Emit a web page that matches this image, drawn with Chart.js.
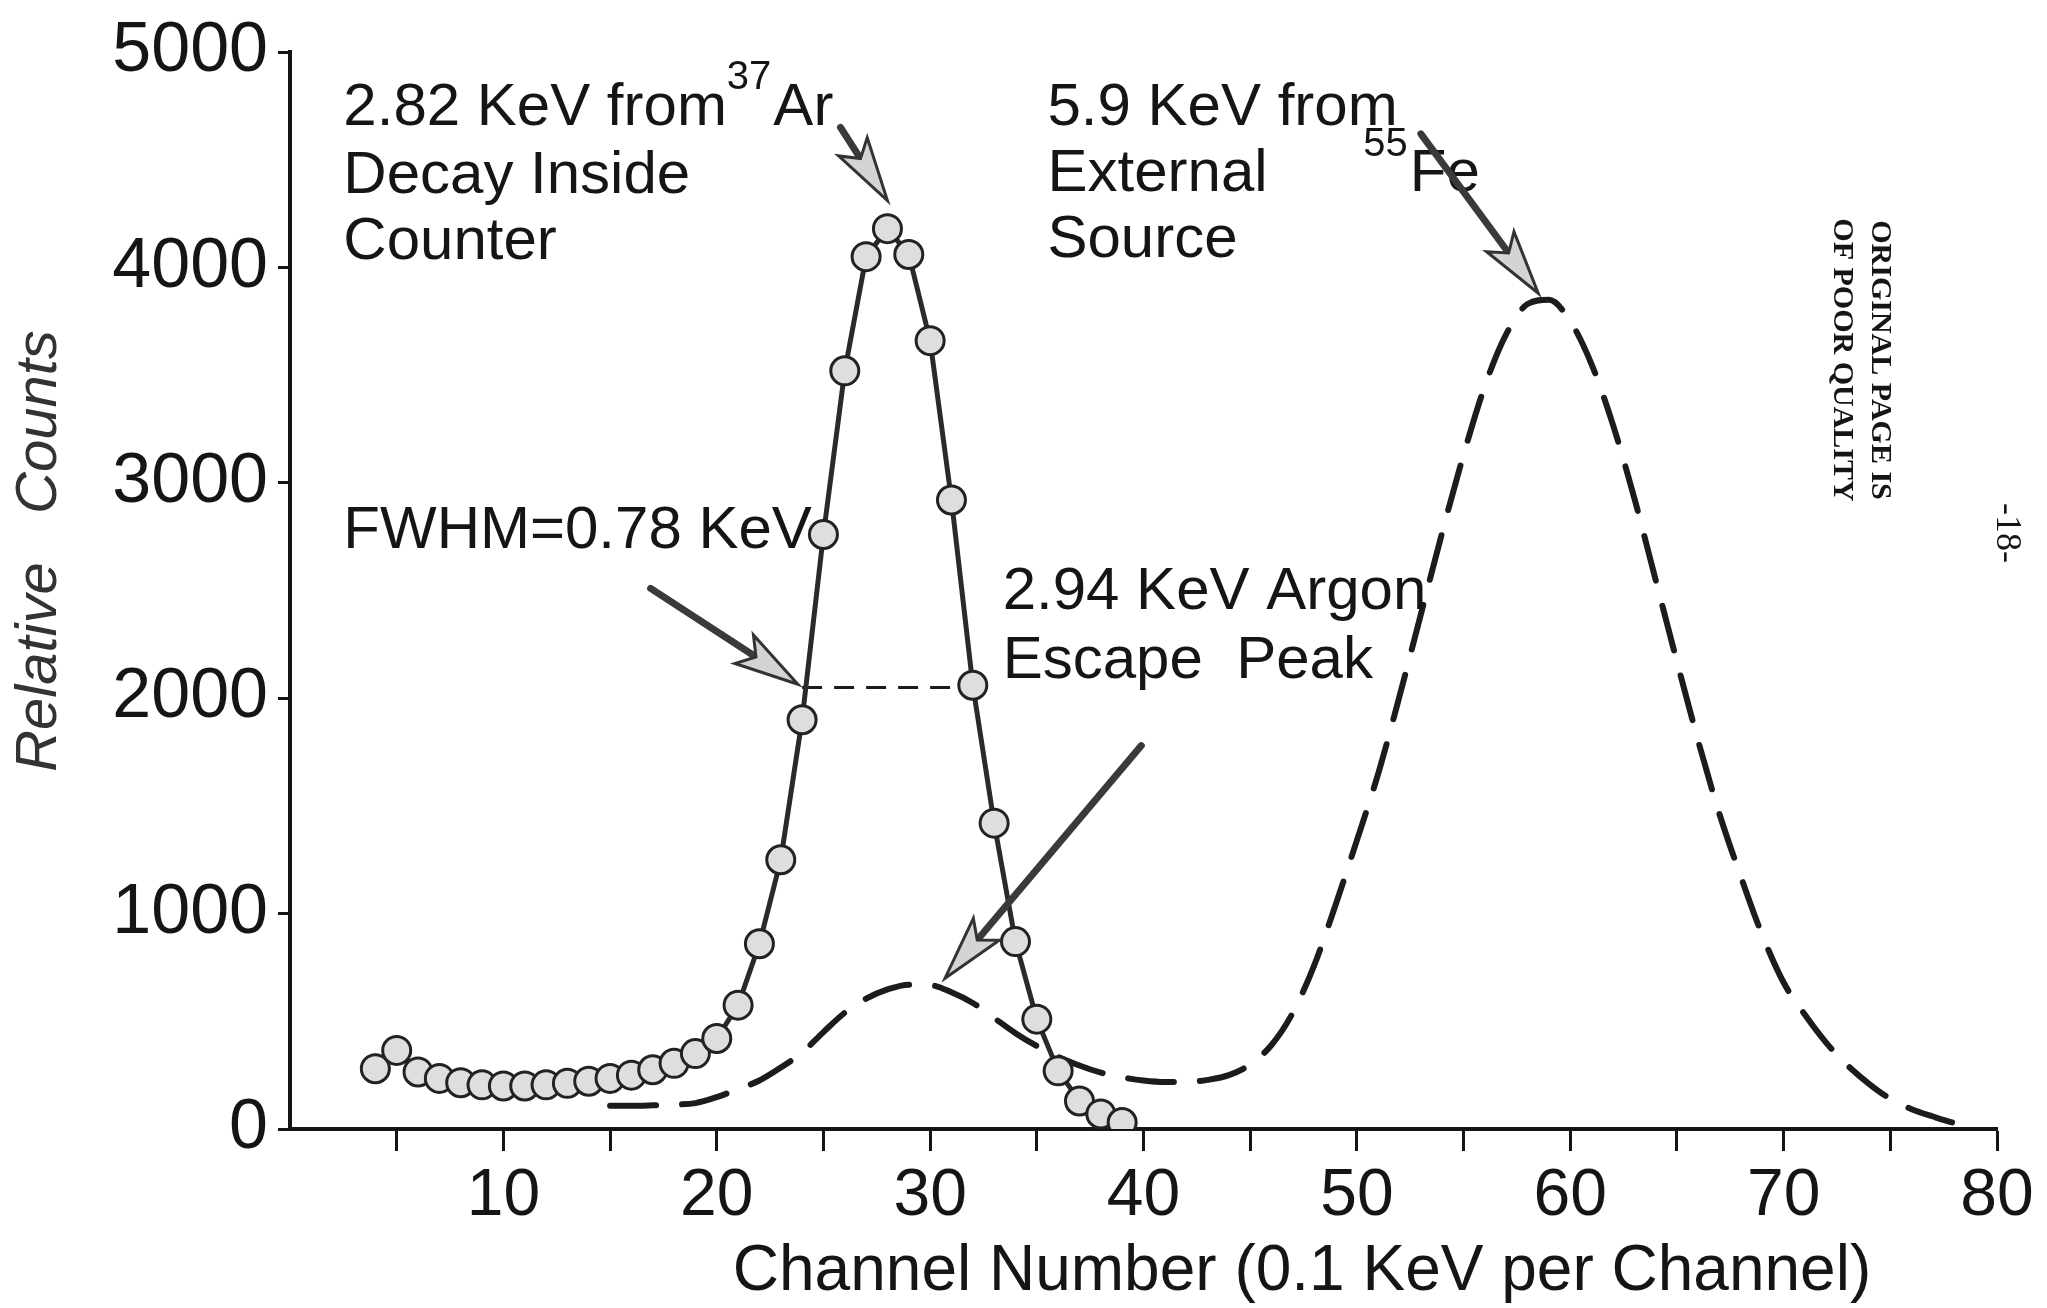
<!DOCTYPE html>
<html>
<head>
<meta charset="utf-8">
<title>37Ar spectrum</title>
<script src="https://cdn.jsdelivr.net/npm/chart.js@4.4.1/dist/chart.umd.min.js"></script>
<style>
  html, body { margin: 0; padding: 0; background: #fff; }
  #wrap { width: 2047px; height: 1308px; position: relative; }
</style>
</head>
<body>
<div id="wrap"><canvas id="spectrumChart"></canvas></div>
<script>
// values
const arChannels = [4, 5, 6, 7, 8, 9, 10, 11, 12, 13, 14, 15, 16, 17, 18, 19, 20, 21,
  22, 23, 24, 25, 26, 27, 28, 29, 30, 31, 32, 33, 34, 35, 36, 37, 38, 39];
const arCounts = [280, 365, 265, 235, 215, 205, 200, 200, 205, 212, 222, 235, 250, 275, 305, 350, 420, 575,
  860, 1250, 1900, 2760, 3520, 4050, 4180, 4060, 3660, 2920, 2060, 1420, 870, 510, 270, 130, 70, 30];

const feChannels = [15, 16, 17, 18, 19, 20, 21, 22, 23, 24, 25, 26, 27, 28, 29, 30, 31, 32, 33, 34,
  35, 36, 37, 38, 39, 40, 41, 42, 43, 44, 45, 46, 47, 48, 49, 50, 51, 52, 53, 54,
  55, 56, 57, 58, 59, 60, 61, 62, 63, 64, 65, 66, 67, 68, 69, 70, 71, 72, 73, 74,
  75, 76, 77, 78, 79];
const feCounts = [108, 108, 110, 113, 120, 148, 185, 225, 285, 355, 450, 540, 605, 648, 670, 668, 635, 585, 515, 445,
  385, 335, 295, 262, 240, 225, 218, 218, 228, 250, 300, 390, 540, 760, 1040, 1340, 1650, 2010, 2390, 2770,
  3130, 3450, 3690, 3830, 3850, 3750, 3550, 3270, 2930, 2550, 2170, 1800, 1460, 1170, 900, 680, 530, 400, 295, 210,
  140, 92, 58, 28, 8];

const fwhmChannels = [24.0, 31.6];
const fwhmCounts = [2050, 2050];

const xTickLabels = [10, 20, 30, 40, 50, 60, 70, 80];
const yTickLabels = [0, 1000, 2000, 3000, 4000, 5000];

const FONT = "'Liberation Sans', Arial, sans-serif";
const INK = '#151515';

// text notes, in data units; parts: [text, superscript?]
const notes = [
  { x: 2.5, y: 4740, parts: [['2.82 KeV from', false], ['37', true], ['Ar', false]] },
  { x: 2.5, y: 4420, parts: [['Decay Inside', false]] },
  { x: 2.5, y: 4115, parts: [['Counter', false]] },
  { x: 35.5, y: 4740, parts: [['5.9 KeV from', false]] },
  { x: 35.5, y: 4430, parts: [['External', false]] },
  { x: 50.3, y: 4430, parts: [['55', true], ['Fe', false]] },
  { x: 35.5, y: 4125, parts: [['Source', false]] },
  { x: 2.5, y: 2775, parts: [['FWHM=0.78 KeV', false]] },
  { x: 33.4, y: 2490, parts: [['2.94 KeV Argon', false]] },
  { x: 33.4, y: 2170, parts: [['Escape  Peak', false]] },
];

const arrows = [
  { from: [25.8, 4650], to: [28.0, 4310] },
  { from: [53.0, 4620], to: [58.5, 3880] },
  { from: [16.9, 2510], to: [23.8, 2065] },
  { from: [39.9, 1780], to: [30.7, 700] },
];

function drawArrow(c, x1, y1, x2, y2) {
  const a = Math.atan2(y2 - y1, x2 - x1);
  const len = 64, half = 17;
  const bx = x2 - len * Math.cos(a), by = y2 - len * Math.sin(a);
  const nx = bx + 0.22 * len * Math.cos(a), ny = by + 0.22 * len * Math.sin(a);
  c.save();
  c.lineCap = 'round';
  c.strokeStyle = '#3a3a3a';
  c.lineWidth = 7;
  c.beginPath(); c.moveTo(x1, y1); c.lineTo(nx, ny); c.stroke();
  c.beginPath();
  c.moveTo(x2, y2);
  c.lineTo(bx + half * Math.sin(a), by - half * Math.cos(a));
  c.lineTo(nx, ny);
  c.lineTo(bx - half * Math.sin(a), by + half * Math.cos(a));
  c.closePath();
  c.fillStyle = '#d4d4d4';
  c.fill();
  c.lineWidth = 3;
  c.strokeStyle = '#333';
  c.stroke();
  c.restore();
}

const notesPlugin = {
  id: 'notes',
  afterDatasetsDraw(chart) {
    const c = chart.ctx, xs = chart.scales.x, ys = chart.scales.y;
    c.save();
    c.fillStyle = INK;
    c.textBaseline = 'middle';
    c.textAlign = 'left';
    notes.forEach(n => {
      let px = xs.getPixelForValue(n.x);
      const py = ys.getPixelForValue(n.y);
      n.parts.forEach(([t, sup]) => {
        c.font = (sup ? 40 : 60) + 'px ' + FONT;
        c.fillText(t, px, sup ? py - 30 : py);
        px += c.measureText(t).width + (sup ? 2 : 0);
      });
    });
    arrows.forEach(a => {
      drawArrow(c, xs.getPixelForValue(a.from[0]), ys.getPixelForValue(a.from[1]),
        xs.getPixelForValue(a.to[0]), ys.getPixelForValue(a.to[1]));
    });
    c.restore();
  },
  afterDraw(chart) {
    const c = chart.ctx;
    c.save();
    c.fillStyle = INK;
    c.textAlign = 'center';
    c.textBaseline = 'middle';
    // axis titles
    c.font = '64px ' + FONT;
    c.fillText('Channel Number (0.1 KeV per Channel)', 1302, 1272);
    c.save();
    c.translate(40, 551);
    c.rotate(-Math.PI / 2);
    c.font = 'italic 58px ' + FONT;
    c.fillStyle = '#333';
    c.fillText('Relative   Counts', 0, 0);
    c.restore();
    // page stamp and page number
    c.save();
    c.translate(1880, 360);
    c.rotate(Math.PI / 2);
    c.font = "bold 30px 'Liberation Serif', serif";
    c.fillText('ORIGINAL PAGE IS', 0, 0);
    c.fillText('OF POOR QUALITY', 0, 38);
    c.restore();
    c.save();
    c.translate(2006, 533);
    c.rotate(Math.PI / 2);
    c.font = "36px 'Liberation Serif', serif";
    c.fillText('-18-', 0, 0);
    c.restore();
    c.restore();
  }
};

const ctx = document.getElementById('spectrumChart');

new Chart(ctx, {
  type: 'line',
  data: {
    datasets: [
      {
        label: 'escape + 55Fe',
        data: feChannels.map((x, i) => ({ x: x, y: feCounts[i] })),
        borderColor: '#1c1c1c',
        borderWidth: 6,
        borderDash: [46, 26],
        borderCapStyle: 'round',
        cubicInterpolationMode: 'monotone',
        pointRadius: 0,
        fill: false,
        order: 3,
      },
      {
        label: 'FWHM',
        data: fwhmChannels.map((x, i) => ({ x: x, y: fwhmCounts[i] })),
        borderColor: '#1c1c1c',
        borderWidth: 3,
        borderDash: [20, 12],
        pointRadius: 0,
        fill: false,
        order: 2,
      },
      {
        label: '37Ar',
        data: arChannels.map((x, i) => ({ x: x, y: arCounts[i] })),
        borderColor: '#2a2a2a',
        borderWidth: 5,
        tension: 0,
        pointRadius: 14,
        pointBackgroundColor: '#dedede',
        pointBorderColor: '#222',
        pointBorderWidth: 3,
        fill: false,
        order: 1,
      },
    ],
  },
  options: {
    responsive: true,
    maintainAspectRatio: false,
    animation: false,
    devicePixelRatio: 1,
    layout: { padding: { left: 0, right: 50, top: 46, bottom: 0 } },
    plugins: {
      legend: { display: false },
      tooltip: { enabled: false },
    },
    scales: {
      x: {
        type: 'linear',
        min: 0,
        max: 80,
        afterFit: s => { s.height = 179; },
        border: { display: true, color: INK, width: 4 },
        grid: {
          drawOnChartArea: false,
          drawTicks: true,
          tickLength: 22,
          tickWidth: 3,
          tickColor: c => (c.tick && c.tick.value === 0 ? 'rgba(0,0,0,0)' : INK),
        },
        ticks: {
          stepSize: 5,
          autoSkip: false,
          maxRotation: 0,
          padding: 6,
          color: INK,
          font: { family: FONT, size: 66 },
          callback: v => (xTickLabels.includes(v) ? String(v) : ''),
        },
      },
      y: {
        min: 0,
        max: 5000,
        afterFit: s => { s.width = 290; },
        border: { display: true, color: INK, width: 4 },
        grid: {
          drawOnChartArea: false,
          drawTicks: true,
          tickLength: 12,
          tickWidth: 3,
          color: INK,
        },
        ticks: {
          stepSize: 1000,
          padding: 10,
          color: INK,
          font: { family: FONT, size: 70 },
          callback: v => (yTickLabels.includes(v) ? String(v) : ''),
        },
      },
    },
  },
  plugins: [notesPlugin],
});
</script>
</body>
</html>
